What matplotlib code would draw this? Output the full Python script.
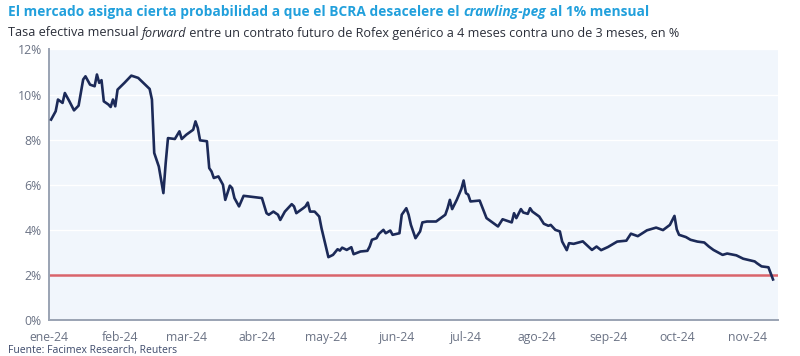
import pandas as pd
import matplotlib
matplotlib.use("Agg")
import matplotlib.pyplot as plt

# Tasa forward mensual (%)
fechas = [
    "2024-01-02", "2024-01-04", "2024-01-05", "2024-01-07", "2024-01-08", "2024-01-10",
    "2024-01-12", "2024-01-14", "2024-01-16", "2024-01-17", "2024-01-19", "2024-01-21",
    "2024-01-22", "2024-01-23", "2024-01-24", "2024-01-25", "2024-01-27", "2024-01-28",
    "2024-01-29", "2024-01-30", "2024-01-31", "2024-02-03", "2024-02-06", "2024-02-09",
    "2024-02-14", "2024-02-15", "2024-02-16", "2024-02-18", "2024-02-20", "2024-02-21",
    "2024-02-22", "2024-02-25", "2024-02-27", "2024-02-28", "2024-03-01", "2024-03-04",
    "2024-03-05", "2024-03-06", "2024-03-07", "2024-03-10", "2024-03-11", "2024-03-12",
    "2024-03-13", "2024-03-15", "2024-03-17", "2024-03-18", "2024-03-20", "2024-03-21",
    "2024-03-22", "2024-03-24", "2024-03-26", "2024-04-03", "2024-04-05", "2024-04-06",
    "2024-04-08", "2024-04-10", "2024-04-11", "2024-04-13", "2024-04-16", "2024-04-17",
    "2024-04-18", "2024-04-21", "2024-04-22", "2024-04-23", "2024-04-24", "2024-04-26",
    "2024-04-28", "2024-04-29", "2024-05-02", "2024-05-04", "2024-05-06", "2024-05-07",
    "2024-05-08", "2024-05-10", "2024-05-12", "2024-05-13", "2024-05-16", "2024-05-19",
    "2024-05-20", "2024-05-21", "2024-05-23", "2024-05-24", "2024-05-26", "2024-05-27",
    "2024-05-29", "2024-05-30", "2024-06-02", "2024-06-03", "2024-06-05", "2024-06-06",
    "2024-06-07", "2024-06-09", "2024-06-11", "2024-06-12", "2024-06-14", "2024-06-18",
    "2024-06-20", "2024-06-22", "2024-06-23", "2024-06-24", "2024-06-25", "2024-06-27",
    "2024-06-29", "2024-06-30", "2024-07-01", "2024-07-02", "2024-07-03", "2024-07-07",
    "2024-07-10", "2024-07-13", "2024-07-15", "2024-07-17", "2024-07-21", "2024-07-22",
    "2024-07-23", "2024-07-25", "2024-07-26", "2024-07-28", "2024-07-29", "2024-07-30",
    "2024-08-02", "2024-08-04", "2024-08-06", "2024-08-07", "2024-08-09", "2024-08-11",
    "2024-08-12", "2024-08-14", "2024-08-15", "2024-08-17", "2024-08-21", "2024-08-25",
    "2024-08-27", "2024-08-29", "2024-09-01", "2024-09-05", "2024-09-09", "2024-09-11",
    "2024-09-14", "2024-09-18", "2024-09-22", "2024-09-25", "2024-09-28", "2024-09-30",
    "2024-10-01", "2024-10-02", "2024-10-05", "2024-10-07", "2024-10-10", "2024-10-13",
    "2024-10-15", "2024-10-17", "2024-10-21", "2024-10-23", "2024-10-27", "2024-10-30",
    "2024-11-02", "2024-11-04", "2024-11-05", "2024-11-07", "2024-11-10", "2024-11-11",
    "2024-11-12",
]
tasa = [
    8.89, 9.26, 9.78, 9.63, 10.07, 9.70,
    9.30, 9.51, 10.67, 10.81, 10.44, 10.37,
    10.89, 10.52, 10.64, 9.70, 9.56, 9.45,
    9.78, 9.48, 10.22, 10.52, 10.84, 10.74,
    10.25, 9.78, 7.41, 6.81, 5.63, 6.96,
    8.07, 8.03, 8.37, 8.03, 8.22, 8.44,
    8.81, 8.52, 7.97, 7.93, 6.74, 6.59,
    6.30, 6.37, 6.00, 5.33, 5.96, 5.85,
    5.41, 5.04, 5.51, 5.41, 4.74, 4.67,
    4.81, 4.67, 4.44, 4.81, 5.14, 5.04,
    4.74, 4.96, 5.04, 5.21, 4.81, 4.81,
    4.59, 4.07, 2.79, 2.89, 3.14, 3.08,
    3.21, 3.11, 3.23, 2.92, 3.04, 3.07,
    3.26, 3.56, 3.63, 3.82, 4.00, 3.85,
    3.97, 3.78, 3.85, 4.67, 4.96, 4.67,
    4.22, 3.63, 3.93, 4.33, 4.37, 4.37,
    4.52, 4.67, 4.96, 5.33, 4.92, 5.33,
    5.81, 6.19, 5.63, 5.56, 5.26, 5.30,
    4.52, 4.30, 4.15, 4.47, 4.33, 4.74,
    4.52, 4.92, 4.77, 4.71, 4.96, 4.81,
    4.59, 4.27, 4.18, 4.22, 4.00, 3.93,
    3.48, 3.10, 3.41, 3.38, 3.49, 3.11,
    3.26, 3.10, 3.24, 3.48, 3.52, 3.83,
    3.72, 3.98, 4.10, 3.99, 4.22, 4.62,
    4.02, 3.78, 3.68, 3.56, 3.48, 3.44,
    3.26, 3.11, 2.89, 2.95, 2.87, 2.72,
    2.65, 2.60, 2.52, 2.38, 2.34, 2.07,
    1.80,
]
meses = ["2024-01-01", "2024-02-01", "2024-03-01", "2024-04-01", "2024-05-01", "2024-06-01",
         "2024-07-01", "2024-08-01", "2024-09-01", "2024-10-01", "2024-11-01"]
etiquetas_meses = ["ene-24", "feb-24", "mar-24", "abr-24", "may-24", "jun-24",
                   "jul-24", "ago-24", "sep-24", "oct-24", "nov-24"]
y_ticks = [0, 2, 4, 6, 8, 10, 12]
umbral = 2.0

FONT = "Open Sans"
AZUL = "#22a0dc"
NAVY = "#1c2a58"
GRIS = "#6b7385"

plt.rcParams["font.family"] = [FONT, "DejaVu Sans"]

fig = plt.figure(figsize=(8, 3.56), dpi=100)
ax = fig.add_axes([0.061, 0.101, 0.911, 0.76])
ax.set_facecolor("#f1f6fc")

x = pd.to_datetime(fechas)
ax.axhline(umbral, color="#d9646b", lw=1.8, zorder=2)
ax.plot(x, tasa, color=NAVY, lw=1.9, zorder=3)

ax.set_ylim(0, 12)
ax.set_xlim(pd.Timestamp("2024-01-01"), pd.Timestamp("2024-11-14"))
ax.set_yticks(y_ticks)
ax.set_yticklabels([f"{v}%" for v in y_ticks])
ax.set_xticks(pd.to_datetime(meses))
ax.set_xticklabels(etiquetas_meses)
ax.grid(axis="y", color="white", lw=1)
ax.set_axisbelow(True)

for s in ["top", "right"]:
    ax.spines[s].set_visible(False)
for s in ["left", "bottom"]:
    ax.spines[s].set_color("#9aa3b3")
    ax.spines[s].set_linewidth(1.4)
ax.tick_params(axis="both", length=0, labelsize=8.8, labelcolor=GRIS)
ax.tick_params(axis="y", pad=5)
ax.tick_params(axis="x", pad=8)

renderer = fig.canvas.get_renderer()


def ancho(s, **kw):
    # ancho en px incluyendo espacios finales
    t1 = fig.text(0, 0, s + "|", **kw)
    t2 = fig.text(0, 0, "|", **kw)
    w = t1.get_window_extent(renderer).width - t2.get_window_extent(renderer).width
    t1.remove()
    t2.remove()
    return w


def texto_mixto(x0, y0, partes, **kw):
    xp = x0
    for s, estilo in partes:
        fig.text(xp / 800, y0, s, fontstyle=estilo, va="center", **kw)
        xp += ancho(s, fontstyle=estilo, **kw)


texto_mixto(8, 1 - 12 / 356, [
    ("El mercado asigna cierta probabilidad a que el BCRA desacelere el ", "normal"),
    ("crawling-peg", "italic"),
    (" al 1% mensual", "normal"),
], fontsize=9.9, fontweight="bold", color=AZUL)

texto_mixto(8, 1 - 33 / 356, [
    ("Tasa efectiva mensual ", "normal"),
    ("forward", "italic"),
    (" entre un contrato futuro de Rofex genérico a 4 meses contra uno de 3 meses, en %", "normal"),
], fontsize=9.05, color="#2b2f3a")

fig.text(8 / 800, 1 - 350 / 356, "Fuente: Facimex Research, Reuters", fontsize=7.5,
         color="#3d4a6b", va="center")

fig.savefig("out.png", dpi=100, facecolor="white")
